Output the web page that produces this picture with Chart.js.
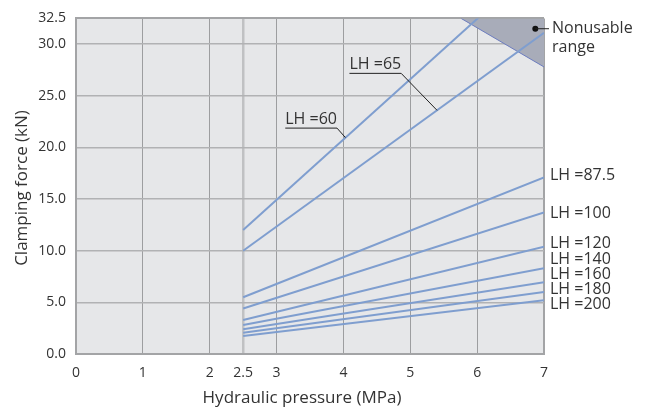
<!DOCTYPE html>
<html>
<head>
<meta charset="utf-8">
<script src="https://cdn.jsdelivr.net/npm/chart.js@4.4.1/dist/chart.umd.min.js"></script>
<style>
  html, body { margin: 0; padding: 0; background: #fff; }
  #wrap { width: 648px; height: 412px; position: relative; }
</style>
</head>
<body>
<div id="wrap"><canvas id="chart"></canvas></div>
<script>
// ── Data ──────────────────────────────────────────────────────────
var xTicks = [0, 1, 2, 2.5, 3, 4, 5, 6, 7];
var yTicks = [0, 5, 10, 15, 20, 25, 30, 32.5];

var lhNames      = ['60', '65', '87.5', '100', '120', '140', '160', '180', '200'];
var pressureFrom = 2.5;
var pressureTo   = 7;
var forceFrom    = [12.0, 10.0, 5.5, 4.4, 3.3, 2.8, 2.4, 2.05, 1.75];
var forceTo      = [38.3, 31.1, 17.1, 13.7, 10.4, 8.3, 6.95, 6.0, 5.2];

var nonusableX = [5.76, 7];
var nonusableY = [32.5, 27.8];
var nonusableMarker = [6.87, 31.5];

// ── Styles ────────────────────────────────────────────────────────
var FONT      = '"Open Sans", sans-serif';
var TEXT      = '#333333';
var LINE_BLUE = '#7f9ecf';
var BORDER    = '#a3a4a6';
var PLOT_BG   = '#e6e7e9';

var datasets = lhNames.map(function (name, i) {
  return {
    label: 'LH =' + name,
    data: [{ x: pressureFrom, y: forceFrom[i] }, { x: pressureTo, y: forceTo[i] }],
    borderColor: LINE_BLUE,
    borderWidth: 2,
    pointRadius: 0,
    fill: false,
    order: 1
  };
});

datasets.push({
  label: 'Nonusable range',
  data: nonusableX.map(function (x, i) { return { x: x, y: nonusableY[i] }; }),
  borderColor: '#6d7dbf',
  borderWidth: 1,
  backgroundColor: '#a8acb9',
  pointRadius: 0,
  fill: 'end',
  order: 5
});

datasets.push({
  label: 'marker',
  data: [{ x: nonusableMarker[0], y: nonusableMarker[1] }],
  showLine: false,
  pointRadius: 3,
  pointBackgroundColor: '#111',
  pointBorderWidth: 0,
  order: 0
});

// ── Plugins: plot background + text annotations ───────────────────
var plotBackground = {
  id: 'plotBackground',
  beforeDraw: function (chart) {
    var a = chart.chartArea, ctx = chart.ctx;
    ctx.save();
    ctx.fillStyle = PLOT_BG;
    ctx.fillRect(a.left, a.top, a.right - a.left, a.bottom - a.top);
    ctx.restore();
  }
};

// right-hand labels: y position in kN units (spread to avoid overlap)
var rightLabels = [
  { text: 'LH =87.5', y: 17.3 },
  { text: 'LH =100',  y: 13.65 },
  { text: 'LH =120',  y: 10.75 },
  { text: 'LH =140',  y: 9.15 },
  { text: 'LH =160',  y: 7.7 },
  { text: 'LH =180',  y: 6.25 },
  { text: 'LH =200',  y: 4.8 }
];

// underlined labels with leaders: text anchor + tip on the line
var leaderLabels = [
  { text: 'LH =65', x: 4.09, y: 28.0, tipX: 5.40, tipY: 23.6 },
  { text: 'LH =60', x: 3.13, y: 22.7, tipX: 4.03, tipY: 20.96 }
];

var annotations = {
  id: 'annotations',
  afterDatasetsDraw: function (chart) {
    var ctx = chart.ctx, xs = chart.scales.x, ys = chart.scales.y, a = chart.chartArea;
    ctx.save();
    ctx.font = '16px ' + FONT;
    ctx.fillStyle = TEXT;
    ctx.textBaseline = 'middle';
    ctx.textAlign = 'left';

    rightLabels.forEach(function (l) {
      ctx.fillText(l.text, a.right + 6, ys.getPixelForValue(l.y));
    });

    ctx.strokeStyle = '#222';
    ctx.lineWidth = 1;
    leaderLabels.forEach(function (l) {
      var px = xs.getPixelForValue(l.x), py = ys.getPixelForValue(l.y);
      var w = ctx.measureText(l.text).width;
      ctx.fillText(l.text, px, py);
      ctx.beginPath();
      ctx.moveTo(px, py + 8.5);
      ctx.lineTo(px + w, py + 8.5);
      ctx.lineTo(xs.getPixelForValue(l.tipX), ys.getPixelForValue(l.tipY));
      ctx.stroke();
    });

    // nonusable range callout
    var mx = xs.getPixelForValue(nonusableMarker[0]);
    var my = ys.getPixelForValue(nonusableMarker[1]);
    ctx.beginPath();
    ctx.moveTo(mx, my);
    ctx.lineTo(a.right + 5, my);
    ctx.stroke();
    ctx.fillText('Nonusable', a.right + 8, my);
    ctx.fillText('range', a.right + 8, my + 19);

    // axis titles
    ctx.font = '17px ' + FONT;
    ctx.textAlign = 'center';
    ctx.fillText('Hydraulic pressure (MPa)', 302, 398);
    ctx.translate(22, 188);
    ctx.rotate(-Math.PI / 2);
    ctx.fillText('Clamping force (kN)', 0, 0);
    ctx.restore();
  }
};

// ── Chart ─────────────────────────────────────────────────────────
new Chart(document.getElementById('chart'), {
  type: 'line',
  data: { datasets: datasets },
  plugins: [plotBackground, annotations],
  options: {
    responsive: true,
    maintainAspectRatio: false,
    animation: false,
    layout: { padding: { left: 0, right: 104, top: 16, bottom: 0 } },
    plugins: {
      legend: { display: false },
      tooltip: { enabled: false }
    },
    scales: {
      x: {
        type: 'linear',
        min: 0,
        max: 7,
        afterBuildTicks: function (scale) {
          scale.ticks = xTicks.map(function (v) { return { value: v }; });
        },
        afterFit: function (scale) { scale.height = 58; },
        ticks: {
          color: TEXT,
          font: { family: FONT, size: 14 },
          padding: 11,
          maxRotation: 0,
          callback: function (v) { return String(v); }
        },
        grid: {
          drawTicks: false,
          color: function (c) {
            var v = c.tick && c.tick.value;
            if (v === 7) return BORDER;
            if (v === 2.5) return '#c0c1c3';
            return '#9d9ea0';
          },
          lineWidth: function (c) {
            var v = c.tick && c.tick.value;
            if (v === 7) return 2;
            if (v === 2.5) return 2.5;
            return 1;
          }
        },
        border: { display: true, color: BORDER, width: 2 }
      },
      y: {
        min: 0,
        max: 32.5,
        afterBuildTicks: function (scale) {
          scale.ticks = yTicks.map(function (v) { return { value: v }; });
        },
        afterFit: function (scale) { scale.width = 76; },
        ticks: {
          color: TEXT,
          font: { family: FONT, size: 14 },
          padding: 10,
          callback: function (v) { return v.toFixed(1); }
        },
        grid: {
          drawTicks: false,
          color: function (c) {
            var v = c.tick && c.tick.value;
            if (v === 32.5) return BORDER;
            return '#b1b2b4';
          },
          lineWidth: function (c) {
            var v = c.tick && c.tick.value;
            if (v === 32.5) return 2;
            return 1.5;
          }
        },
        border: { display: true, color: BORDER, width: 2 }
      }
    }
  }
});
</script>
</body>
</html>
